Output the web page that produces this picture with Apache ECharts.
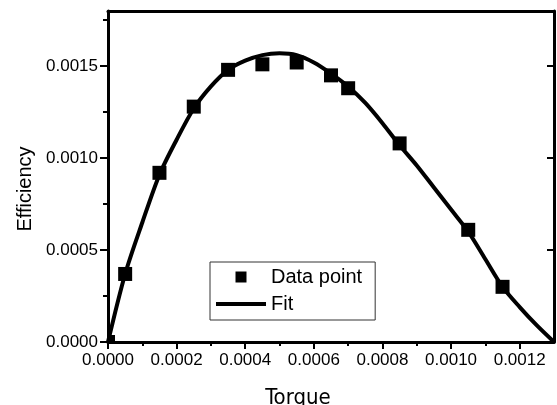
<!DOCTYPE html>
<html>
<head>
<meta charset="utf-8">
<script src="https://cdn.jsdelivr.net/npm/echarts@6/dist/echarts.min.js"></script>
<style>
html,body{margin:0;padding:0;background:#fff;}
#chart{width:557px;height:405px;}
</style>
</head>
<body>
<div id="chart"></div>
<script>
// Measured data points
var torque = [0, 0.00005, 0.00015, 0.00025, 0.00035, 0.00045, 0.00055, 0.00065, 0.0007, 0.00085, 0.00105, 0.00115];
var efficiency = [0, 0.00037, 0.00092, 0.00128, 0.00148, 0.00151, 0.00152, 0.00145, 0.00138, 0.00108, 0.00061, 0.00030];

// Fit curve
var fitTorque = [0, 0.00005, 0.0001, 0.00015, 0.0002, 0.00025, 0.0003, 0.00035, 0.0004, 0.00045, 0.0005, 0.00055, 0.0006, 0.00065, 0.0007, 0.00075, 0.0008, 0.00085, 0.0009, 0.00095, 0.001, 0.00105, 0.0011, 0.00115, 0.0012, 0.00125, 0.0013];
var fitEfficiency = [0, 0.00037, 0.00065, 0.00091, 0.00110, 0.00127, 0.00139, 0.00148, 0.00153, 0.00156, 0.00157, 0.00156, 0.00152, 0.00146, 0.00139, 0.00130, 0.00119, 0.00107, 0.00096, 0.00084, 0.00072, 0.00060, 0.00045, 0.00030, 0.00019, 0.00009, 0];

// Tick values
var xMajorTicks = [0, 0.0002, 0.0004, 0.0006, 0.0008, 0.0010, 0.0012];
var xMinorTicks = [0.0001, 0.0003, 0.0005, 0.0007, 0.0009, 0.0011];
var yMajorTicks = [0, 0.0005, 0.0010, 0.0015];
var yMinorTicks = [0.00025, 0.00075, 0.00125, 0.00175];

var X_MIN = 0, X_MAX = 0.0013, Y_MIN = 0, Y_MAX = 0.0018;

var chart = echarts.init(document.getElementById('chart'), null, {renderer: 'canvas'});
var lbl = {fontFamily: "'Liberation Sans', Arial, sans-serif", fontSize: 17, color: '#000'};
var axisLine = {show: true, onZero: false, lineStyle: {color: '#000', width: 3}};

var dataPts = torque.map(function (t, i) { return [t, efficiency[i]]; });
var fitPts = fitTorque.map(function (t, i) { return [t, fitEfficiency[i]]; });

chart.setOption({
  animation: false,
  backgroundColor: '#fff',
  grid: {left: 108, right: 3, top: 11, bottom: 63, containLabel: false, outerBoundsMode: 'none'},
  legend: {
    orient: 'vertical',
    left: 210, top: 262,
    padding: [5, 13, 6, 6],
    itemWidth: 50, itemHeight: 11,
    itemGap: 7,
    borderColor: '#333', borderWidth: 1,
    backgroundColor: '#fff',
    textStyle: {fontFamily: "'Liberation Sans', Arial, sans-serif", fontSize: 20, color: '#000', lineHeight: 19},
    data: [
      {name: 'Data point', icon: 'path://M0,0L10,0L10,10L0,10Z', itemStyle: {color: '#000'}},
      {name: 'Fit', icon: 'path://M0,0L50,0L50,4L0,4Z', itemStyle: {color: '#000'}}
    ]
  },
  xAxis: [
    {
      type: 'value', min: X_MIN, max: X_MAX, position: 'bottom',
      name: 'Torque', nameLocation: 'middle', nameGap: 45,
      nameTextStyle: {fontFamily: "'DejaVu Sans Condensed', 'DejaVu Sans', sans-serif", fontSize: 22, color: '#000', padding: [0, 66, 0, 0]},
      axisLine: axisLine,
      axisTick: {show: true, length: 7, lineStyle: {color: '#000', width: 2}, customValues: xMajorTicks},
      axisLabel: Object.assign({margin: 10, customValues: xMajorTicks, formatter: function (v) { return v.toFixed(4); }}, lbl),
      splitLine: {show: false}
    },
    {
      type: 'value', min: X_MIN, max: X_MAX, position: 'bottom',
      axisLine: {show: false},
      axisTick: {show: true, length: 4, lineStyle: {color: '#000', width: 2}, customValues: xMinorTicks},
      axisLabel: {show: false},
      splitLine: {show: false}
    },
    {
      type: 'value', min: X_MIN, max: X_MAX, position: 'top',
      axisLine: axisLine,
      axisTick: {show: false},
      axisLabel: {show: false},
      splitLine: {show: false}
    }
  ],
  yAxis: [
    {
      type: 'value', min: Y_MIN, max: Y_MAX, position: 'left',
      name: 'Efficiency', nameLocation: 'middle', nameGap: 73, nameRotate: 90,
      nameTextStyle: {fontFamily: "'Liberation Sans', Arial, sans-serif", fontSize: 20, color: '#000', padding: [0, 25, 0, 0]},
      axisLine: axisLine,
      axisTick: {show: true, length: 8, lineStyle: {color: '#000', width: 2}, customValues: yMajorTicks},
      axisLabel: Object.assign({margin: 10, customValues: yMajorTicks, formatter: function (v) { return v.toFixed(4); }}, lbl),
      splitLine: {show: false}
    },
    {
      type: 'value', min: Y_MIN, max: Y_MAX, position: 'left',
      axisLine: {show: false},
      axisTick: {show: true, length: 5, lineStyle: {color: '#000', width: 2}, customValues: yMinorTicks},
      axisLabel: {show: false},
      splitLine: {show: false}
    },
    {
      type: 'value', min: Y_MIN, max: Y_MAX, position: 'right',
      axisLine: axisLine,
      axisTick: {show: true, inside: true, length: 7, lineStyle: {color: '#000', width: 2}, customValues: [0.0005, 0.0010, 0.0015]},
      axisLabel: {show: false},
      splitLine: {show: false}
    }
  ],
  series: [
    {
      name: 'Fit', type: 'line', xAxisIndex: 0, yAxisIndex: 0,
      data: fitPts, smooth: 0.3, symbol: 'none', showSymbol: false,
      lineStyle: {color: '#000', width: 4},
      itemStyle: {color: '#000'},
      clip: true, z: 2
    },
    {
      name: 'Data point', type: 'custom', xAxisIndex: 0, yAxisIndex: 0,
      data: dataPts, clip: true, z: 3,
      itemStyle: {color: '#000'},
      renderItem: function (params, api) {
        var p = api.coord([api.value(0), api.value(1)]);
        var s = 14;
        return {type: 'rect', shape: {x: p[0] - s / 2, y: p[1] - s / 2, width: s, height: s}, style: {fill: '#000'}};
      }
    }
  ]
});
</script>
</body>
</html>
